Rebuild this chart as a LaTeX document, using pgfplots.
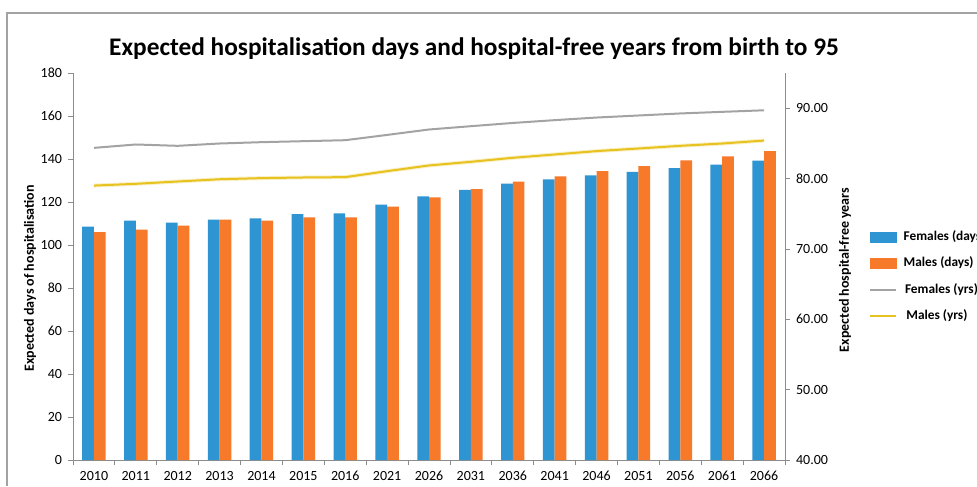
\documentclass[border=0pt]{standalone}
\usepackage{pgfplots}
\pgfplotsset{compat=1.18}
\usepackage{fontspec}
\setmainfont{Carlito}
\definecolor{fblue}{HTML}{2F95D2}
\definecolor{morange}{HTML}{F7792A}
\definecolor{lgray}{HTML}{A3A3A3}
\definecolor{lyellow}{HTML}{E8C21E}
\definecolor{axgray}{HTML}{8C8C8C}
\pgfplotstableread{
x fd md
0 108.5 106.0
1 111.3 107.1
2 110.4 109.0
3 111.8 111.8
4 112.4 111.3
5 114.4 112.9
6 114.7 112.9
7 118.8 117.8
8 122.6 122.2
9 125.6 126.0
10 128.5 129.5
11 130.5 131.9
12 132.4 134.4
13 134.0 136.7
14 135.8 139.4
15 137.4 141.2
16 139.2 143.7
}\days
\pgfplotstableread{
x fy my
0 84.36 79.00
1 84.84 79.25
2 84.65 79.58
3 84.98 79.90
4 85.17 80.06
5 85.31 80.15
6 85.45 80.20
7 86.20 81.05
8 86.97 81.86
9 87.44 82.38
10 87.90 82.95
11 88.30 83.42
12 88.67 83.90
13 88.96 84.27
14 89.25 84.65
15 89.48 84.98
16 89.70 85.40
}\years
\begin{document}
\begin{tikzpicture}
\useasboundingbox (0,0) rectangle (732.75pt,364.5pt);
\clip (0,0) rectangle (732.75pt,364.5pt);
\fill[white] (0,0) rectangle (732.75pt,364.5pt);
\draw[axgray!80, line width=0.8pt] (5.25pt,0) -- (5.25pt,354.75pt) -- (732.75pt,354.75pt);
\node[font=\bfseries\fontsize{19}{22}\selectfont] at (355.5pt,327.75pt) {Expected hospitalisation days and hospital-free years from birth to 95};
\node[font=\bfseries\fontsize{10.5}{12}\selectfont, rotate=90] at (22.5pt,155.6pt) {Expected days of hospitalisation};
\node[font=\bfseries\fontsize{10.5}{12}\selectfont, rotate=90] at (633.75pt,162pt) {Expected hospital-free years};
\begin{axis}[
  at={(54.75pt,19.5pt)}, anchor=south west,
  width=534pt, height=290.25pt, scale only axis,
  xmin=-0.5, xmax=16.5, ymin=0, ymax=180,
  ytick={0,20,...,180},
  xtick={0,...,16},
  xticklabels={2010,2011,2012,2013,2014,2015,2016,2021,2026,2031,2036,2041,2046,2051,2056,2061,2066},
  minor xtick={-0.5,0.5,...,16.5},
  major x tick style={draw=none},
  minor x tick style={axgray, line width=0.6pt},
  minor tick length=3.75pt,
  major tick length=3.75pt,
  tick align=outside,
  ytick style={axgray, line width=0.6pt},
  axis x line*=bottom, axis y line*=left,
  axis line style={axgray, line width=0.6pt, -},
  tick label style={font=\fontsize{10.5}{12}\selectfont},
  /pgf/number format/assume math mode=true,
  xticklabel style={yshift=-1pt},
  yticklabel style={xshift=-1pt},
  ybar=0pt, bar width=0.28,
  clip=false,
]
\addplot[fill=fblue, draw=none, bar shift=-0.14] table[x=x,y=fd] {\days};
\addplot[fill=morange, draw=none, bar shift=0.14] table[x=x,y=md] {\days};
\end{axis}
\begin{axis}[
  at={(54.75pt,19.5pt)}, anchor=south west,
  width=534pt, height=290.25pt, scale only axis,
  xmin=-0.5, xmax=16.5, ymin=40, ymax=95,
  ytick={40,50,...,90},
  axis x line=none, axis y line*=right,
  axis line style={axgray, line width=0.6pt, -},
  tick align=outside, major tick length=3.75pt,
  ytick style={axgray, line width=0.6pt},
  tick label style={font=\fontsize{10.5}{12}\selectfont},
  /pgf/number format/assume math mode=true,
  /pgf/number format/.cd, fixed, fixed zerofill, precision=2, /pgfplots/.cd,
  yticklabel style={xshift=1pt},
  clip=false,
  legend style={at={(1.112,0.474)}, anchor=west, draw=none, fill=none,
    font=\bfseries\fontsize{10}{12}\selectfont, row sep=8.8pt,
    nodes={inner sep=1pt, text height=7pt, text depth=2pt}},
  legend cell align=left,
]
\addlegendimage{legend image code/.code={\fill[fblue] (0pt,-3.75pt) rectangle (19.5pt,3.75pt);}}
\addlegendentry{\hspace{4pt}Females (days)}
\addlegendimage{legend image code/.code={\fill[morange] (0pt,-3.75pt) rectangle (19.5pt,3.75pt);}}
\addlegendentry{\hspace{4pt}Males (days)}
\addlegendimage{legend image code/.code={\draw[lgray, line width=1.5pt] (0pt,0pt) -- (19.5pt,0pt);}}
\addlegendentry{\hspace{5pt}Females (yrs)}
\addlegendimage{legend image code/.code={\draw[lyellow, line width=1.5pt] (0pt,0pt) -- (19.5pt,0pt);}}
\addlegendentry{\hspace{6pt}Males (yrs)}
\addplot[lgray, line width=1.5pt, mark=none] table[x=x,y=fy] {\years};
\addplot[lyellow!40, line width=3pt, mark=none, opacity=0.6] table[x=x,y=my] {\years};
\addplot[lyellow, line width=1.5pt, mark=none] table[x=x,y=my] {\years};
\end{axis}
\end{tikzpicture}
\end{document}
